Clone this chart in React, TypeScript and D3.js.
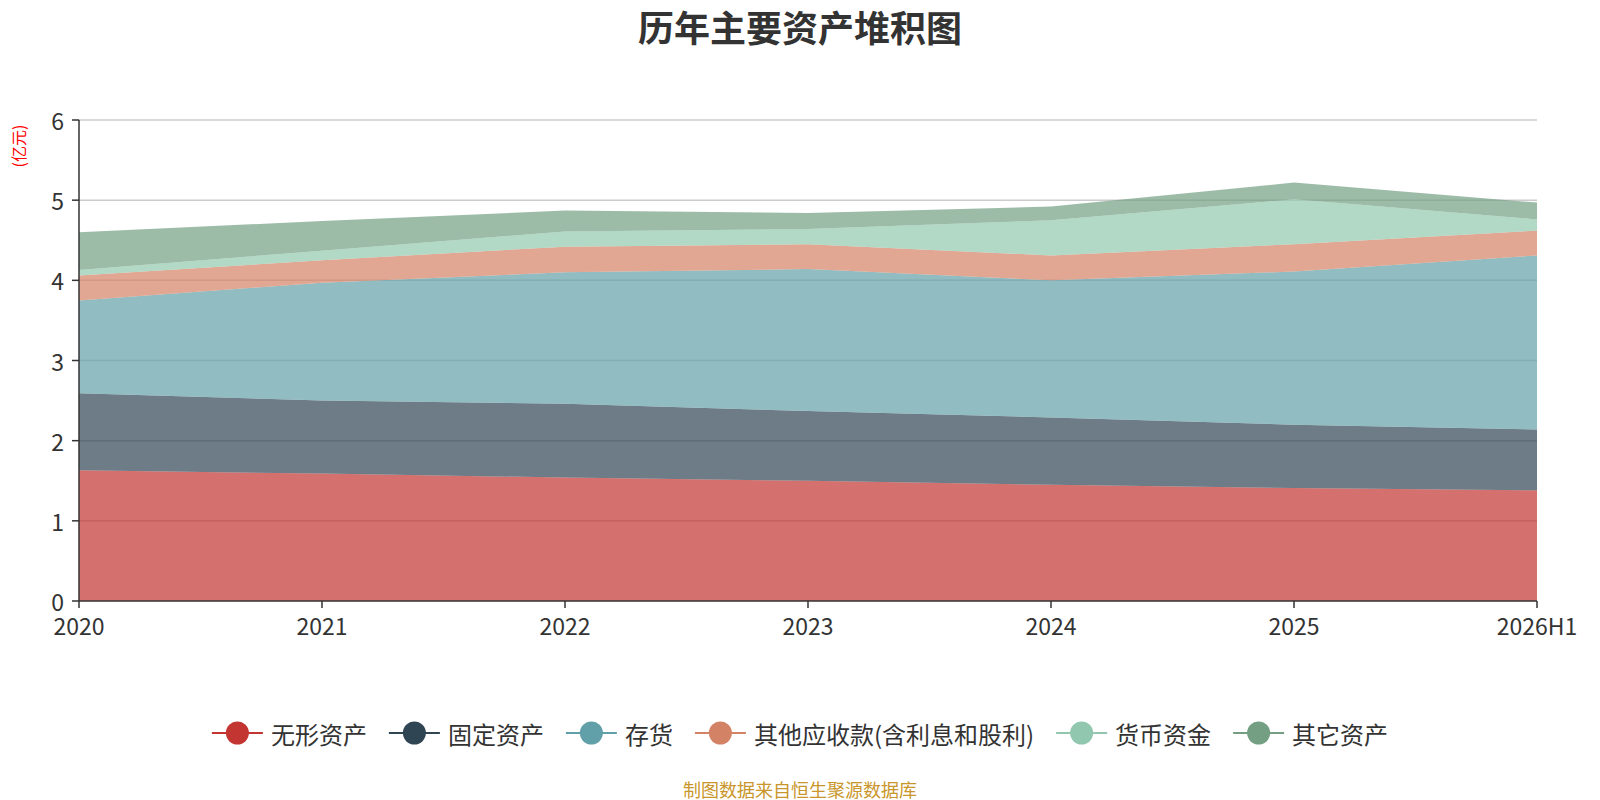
import { useEffect, useRef } from "react";
import * as d3 from "d3";

const years = ["2020", "2021", "2022", "2023", "2024", "2025", "2026H1"];
const seriesNames = ["无形资产", "固定资产", "存货", "其他应收款(含利息和股利)", "货币资金", "其它资产"];
const colors = ["#c23531", "#2f4554", "#61a0a8", "#d48265", "#91c7ae", "#749f83"];

// 亿元
const intangible = [1.63, 1.59, 1.54, 1.5, 1.45, 1.41, 1.38];
const fixedAssets = [0.96, 0.91, 0.92, 0.87, 0.84, 0.79, 0.76];
const inventory = [1.16, 1.47, 1.64, 1.77, 1.71, 1.91, 2.17];
const otherRecv = [0.31, 0.28, 0.32, 0.31, 0.31, 0.34, 0.31];
const cash = [0.07, 0.12, 0.19, 0.19, 0.44, 0.56, 0.14];
const otherAssets = [0.47, 0.37, 0.26, 0.2, 0.17, 0.21, 0.21];

const yTicks = [0, 1, 2, 3, 4, 5, 6];

const W = 1600;
const H = 800;
const m = { left: 79, right: 63, top: 120, bottom: 199 };
const font = "'Noto Sans CJK SC', 'Noto Sans', sans-serif";

const App = () => {
  const svgRef = useRef<SVGSVGElement | null>(null);

  useEffect(() => {
    if (!svgRef.current) return;
    const svg = d3.select(svgRef.current);
    svg.selectAll("*").remove();

    const cols = [intangible, fixedAssets, inventory, otherRecv, cash, otherAssets];
    const rows = years.map((y, i) => {
      const r: Record<string, number | string> = { year: y };
      seriesNames.forEach((n, k) => (r[n] = cols[k][i]));
      return r;
    });
    const stacked = d3.stack<Record<string, number | string>>().keys(seriesNames)(rows);

    const x = d3
      .scalePoint<string>()
      .domain(years)
      .range([m.left, W - m.right]);
    const y = d3
      .scaleLinear()
      .domain([0, 6])
      .range([H - m.bottom, m.top]);

    // title
    svg
      .append("text")
      .attr("x", 800)
      .attr("y", 26)
      .attr("text-anchor", "middle")
      .attr("dominant-baseline", "central")
      .attr("font-family", font)
      .attr("font-size", 36)
      .attr("font-weight", "bold")
      .attr("fill", "#333")
      .text("历年主要资产堆积图");

    // unit label
    svg
      .append("text")
      .attr("transform", `translate(18,146) rotate(-90)`)
      .attr("text-anchor", "middle")
      .attr("dominant-baseline", "central")
      .attr("font-family", font)
      .attr("font-size", 16)
      .attr("fill", "#ff0000")
      .text("(亿元)");

    // grid
    svg
      .append("g")
      .selectAll("line")
      .data(yTicks.slice(1))
      .join("line")
      .attr("x1", m.left)
      .attr("x2", W - m.right)
      .attr("y1", (d) => y(d))
      .attr("y2", (d) => y(d))
      .attr("stroke", "#ccc")
      .attr("stroke-width", 1.5);

    const area = d3
      .area<d3.SeriesPoint<Record<string, number | string>>>()
      .x((d) => x(d.data.year as string)!)
      .y0((d) => y(d[0]))
      .y1((d) => y(d[1]));

    svg
      .append("g")
      .selectAll("path")
      .data(stacked)
      .join("path")
      .attr("d", area)
      .attr("fill", (_, i) => colors[i])
      .attr("fill-opacity", 0.7);

    // y axis
    const ya = svg.append("g");
    ya.append("line")
      .attr("x1", m.left)
      .attr("x2", m.left)
      .attr("y1", m.top)
      .attr("y2", H - m.bottom)
      .attr("stroke", "#333")
      .attr("stroke-width", 1.5);
    ya.selectAll("line.t")
      .data(yTicks)
      .join("line")
      .attr("class", "t")
      .attr("x1", m.left - 7)
      .attr("x2", m.left)
      .attr("y1", (d) => y(d))
      .attr("y2", (d) => y(d))
      .attr("stroke", "#333")
      .attr("stroke-width", 1.5);
    ya.selectAll("text")
      .data(yTicks)
      .join("text")
      .attr("x", m.left - 15)
      .attr("y", (d) => y(d))
      .attr("text-anchor", "end")
      .attr("dominant-baseline", "central")
      .attr("font-family", font)
      .attr("font-size", 23)
      .attr("fill", "#333")
      .text((d) => d);

    // x axis
    const xa = svg.append("g");
    xa.append("line")
      .attr("x1", m.left)
      .attr("x2", W - m.right)
      .attr("y1", H - m.bottom)
      .attr("y2", H - m.bottom)
      .attr("stroke", "#333")
      .attr("stroke-width", 1.5);
    xa.selectAll("line.t")
      .data(years)
      .join("line")
      .attr("class", "t")
      .attr("x1", (d) => x(d)!)
      .attr("x2", (d) => x(d)!)
      .attr("y1", H - m.bottom)
      .attr("y2", H - m.bottom + 7)
      .attr("stroke", "#333")
      .attr("stroke-width", 1.5);
    xa.selectAll("text")
      .data(years)
      .join("text")
      .attr("x", (d) => x(d)!)
      .attr("y", H - m.bottom + 24)
      .attr("text-anchor", "middle")
      .attr("dominant-baseline", "central")
      .attr("font-family", font)
      .attr("font-size", 23)
      .attr("fill", "#333")
      .text((d) => d);

    // legend
    const lg = svg.append("g");
    const items = lg
      .selectAll("g")
      .data(seriesNames)
      .join("g");
    items
      .append("line")
      .attr("x1", 0)
      .attr("x2", 51)
      .attr("y1", 0)
      .attr("y2", 0)
      .attr("stroke", (_, i) => colors[i])
      .attr("stroke-width", 2);
    items
      .append("circle")
      .attr("cx", 25.5)
      .attr("r", 11.5)
      .attr("fill", (_, i) => colors[i]);
    items
      .append("text")
      .attr("x", 59)
      .attr("dominant-baseline", "central")
      .attr("font-family", font)
      .attr("font-size", 24)
      .attr("fill", "#333")
      .text((d) => d);
    const widths: number[] = [];
    items.each(function () {
      const t = d3.select(this).select("text").node() as SVGTextElement;
      widths.push(59 + t.getComputedTextLength());
    });
    const gap = 22;
    const total = d3.sum(widths) + gap * (widths.length - 1);
    let cx = 800 - total / 2;
    items.attr("transform", (_, i) => {
      const tx = cx;
      cx += widths[i] + gap;
      return `translate(${tx},733)`;
    });

    // source
    svg
      .append("text")
      .attr("x", 800)
      .attr("y", 789)
      .attr("text-anchor", "middle")
      .attr("dominant-baseline", "central")
      .attr("font-family", font)
      .attr("font-size", 18)
      .attr("fill", "#c9962b")
      .text("制图数据来自恒生聚源数据库");
  }, []);

  return (
    <svg
      ref={svgRef}
      width={W}
      height={H}
      viewBox={`0 0 ${W} ${H}`}
      style={{ position: "absolute", left: 0, top: 0, display: "block", background: "#fff" }}
    />
  );
};

export default App;
